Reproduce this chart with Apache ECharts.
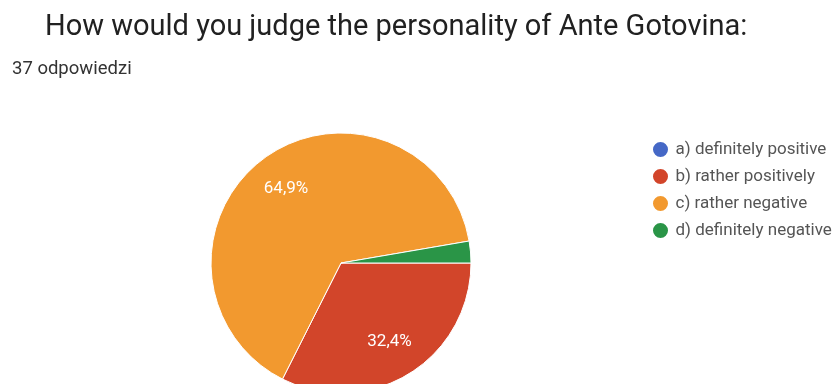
<!DOCTYPE html>
<html>
<head>
<meta charset="utf-8">
<script src="https://cdn.jsdelivr.net/npm/echarts@6/dist/echarts.min.js"></script>
<style>
html,body{margin:0;padding:0;background:#fff;}
#chart{width:833px;height:384px;}
</style>
</head>
<body>
<div id="chart"></div>
<script>
const titleText = 'How would you judge the personality of Ante Gotovina:';
const subtitleText = '37 odpowiedzi';
const categories = ['a) definitely positive', 'b) rather positively', 'c) rather negative', 'd) definitely negative'];
const counts = [0, 12, 24, 1];
const colors = ['#4568c6', '#d2452a', '#f2992f', '#2a9547'];

const pieData = categories.map((name, i) => ({ name: name, value: counts[i], itemStyle: { color: colors[i] } }));
const labelData = categories.map((name, i) => ({ name: name, value: counts[i] }));

function fmt(p) {
  if (p.percent < 5) return '';
  return p.percent.toFixed(1).replace('.', ',') + '%';
}

const chart = echarts.init(document.getElementById('chart'));
chart.setOption({
  animation: false,
  title: [
    { text: titleText, left: 40, top: 8, textStyle: { fontFamily: 'Roboto', fontSize: 29, fontWeight: 'normal', color: '#212121' } },
    { text: subtitleText, left: 7, top: 55, textStyle: { fontFamily: 'Roboto', fontSize: 18.5, fontWeight: 'normal', color: '#333' } }
  ],
  legend: {
    orient: 'vertical',
    left: 646,
    top: 135,
    icon: 'circle',
    itemWidth: 20,
    itemHeight: 17,
    itemGap: 8,
    data: categories,
    textStyle: { fontFamily: 'Roboto', fontSize: 17, color: '#555' }
  },
  series: [
    {
      type: 'pie',
      center: [341, 263],
      radius: 130,
      startAngle: 0,
      clockwise: true,
      label: { show: false },
      labelLine: { show: false },
      itemStyle: { borderColor: '#fff', borderWidth: 1 },
      emphasis: { disabled: true },
      data: pieData
    },
    {
      type: 'pie',
      center: [341, 263],
      radius: [49, 130],
      startAngle: 0,
      clockwise: true,
      silent: true,
      itemStyle: { color: 'rgba(0,0,0,0)' },
      label: { show: true, position: 'inside', formatter: fmt, color: '#fff', fontFamily: 'Roboto', fontSize: 17 },
      labelLine: { show: false },
      emphasis: { disabled: true },
      data: labelData
    }
  ]
});
</script>
</body>
</html>
